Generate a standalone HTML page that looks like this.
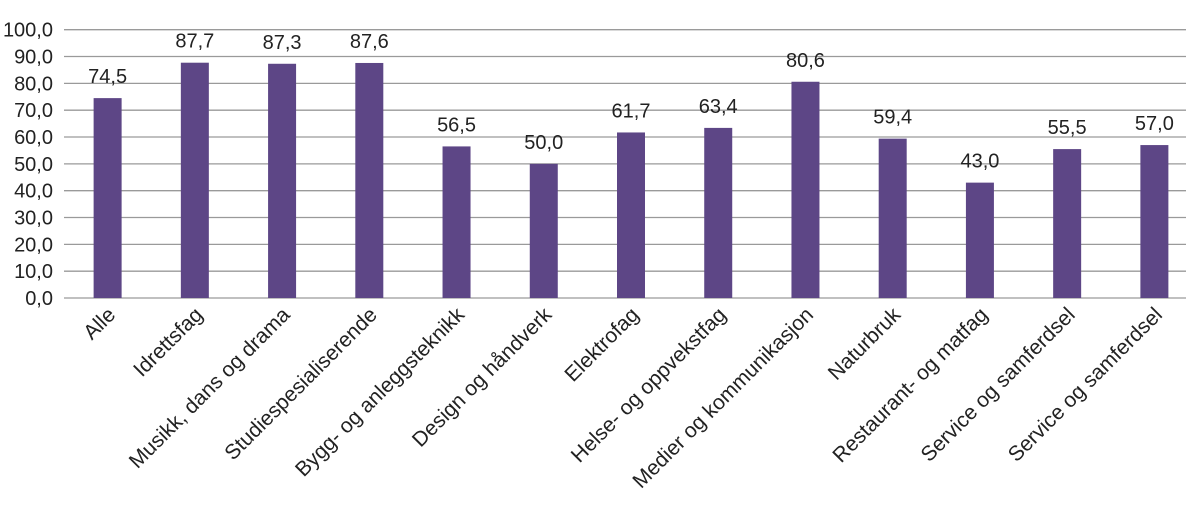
<!DOCTYPE html>
<html><head><meta charset="utf-8"><style>
body{margin:0;background:#fff;}
svg{display:block;font-family:"Liberation Sans",Arial,sans-serif;}
</style></head><body>
<svg id="chart" width="1200" height="513" viewBox="0 0 1200 513"></svg>
<script>
const categories=["Alle","Idrettsfag","Musikk, dans og drama","Studiespesialiserende","Bygg- og anleggsteknikk","Design og håndverk","Elektrofag","Helse- og oppvekstfag","Medier og kommunikasjon","Naturbruk","Restaurant- og matfag","Service og samferdsel","Service og samferdsel"];
const values=[74.5,87.7,87.3,87.6,56.5,50.0,61.7,63.4,80.6,59.4,43.0,55.5,57.0];
const yTicks=[0,10,20,30,40,50,60,70,80,90,100];
const svg=document.getElementById('chart');
const NS='http://www.w3.org/2000/svg';
const x0=64,x1=1198,yBase=298,yTop=29.7;
const y=v=>yBase-(v/100)*(yBase-yTop);
const band=(x1-x0)/categories.length;
const xc=i=>x0+band*(i+0.5);
function mk(t,a){const e=document.createElementNS(NS,t);for(const k in a)e.setAttribute(k,a[k]);svg.appendChild(e);return e;}
yTicks.forEach(t=>{
  const l=mk('line',{x1:x0,x2:1186,y1:y(t),y2:y(t),stroke:'#9a9a9a','stroke-width':1.3});
  
  
  const tx=mk('text',{x:53,y:y(t)+7,'text-anchor':'end','font-size':20,fill:'#222'});
  tx.textContent=t.toFixed(1).replace('.',',');
  
  
});
values.forEach((v,i)=>{
  const r=mk('rect',{x:xc(i)-14,y:y(v),width:28,height:yBase-y(v),fill:'#5d4686'});
  
  
  const t=mk('text',{x:xc(i),y:y(v)-15,'text-anchor':'middle','font-size':20,fill:'#222'});
  t.textContent=v.toFixed(1).replace('.',',');
  
  
  const c=mk('text',{x:0,y:0,'text-anchor':'end','font-size':21,fill:'#222',transform:`translate(${xc(i)+9},${316}) rotate(-45)`});
  c.textContent=categories[i];
  
  
});
</script>
</body></html>
